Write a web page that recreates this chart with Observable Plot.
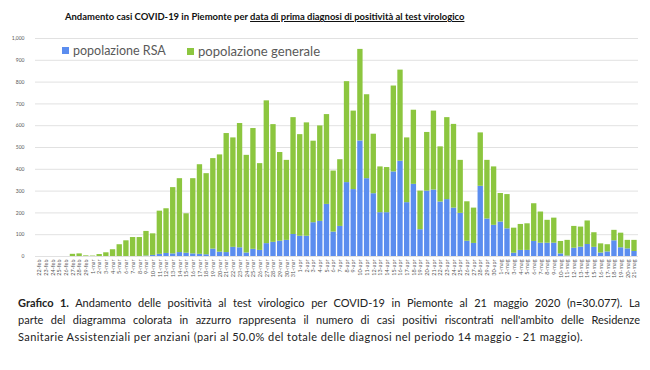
<!DOCTYPE html>
<html><head><meta charset="utf-8">
<script src="https://cdn.jsdelivr.net/npm/d3@7"></script>
<script src="https://cdn.jsdelivr.net/npm/@observablehq/plot@0.6"></script>
<style>
body{margin:0;width:650px;height:370px;background:#fff;position:relative;overflow:hidden;font-family:Lato,"Open Sans",sans-serif;}
#title{position:absolute;left:65px;top:10px;font-weight:bold;font-size:10.5px;white-space:nowrap;color:#111;line-height:14px}
#chart{position:absolute;left:0;top:28px;}
.leg{position:absolute;top:43px;font-size:13px;color:#595959;white-space:nowrap;line-height:16px}
.sw{display:inline-block;width:7px;height:7px;margin-right:4px;vertical-align:1px}
.cap{position:absolute;left:18px;width:622px;font-size:11px;color:#222;white-space:nowrap;line-height:14px}
.j{text-align:justify;text-align-last:justify}
</style></head><body>
<div id="title">Andamento casi COVID-19 in Piemonte per <u>data di prima diagnosi di positività al test virologico</u></div>
<div id="chart"></div>
<div class="leg" id="l1" style="left:62px"><span class="sw" style="background:#5b8def"></span>popolazione RSA</div>
<div class="leg" id="l2" style="left:187px"><span class="sw" style="background:#8cc63f"></span>popolazione generale</div>
<div class="cap j" id="c1" style="top:296px"><b>Grafico 1.</b> Andamento delle positività al test virologico per COVID-19 in Piemonte al 21 maggio 2020 (n=30.077). La</div>
<div class="cap j" id="c2" style="top:313px">parte del diagramma colorata in azzurro rappresenta il numero di casi positivi riscontrati nell'ambito delle Residenze</div>
<div class="cap" id="c3" style="top:330px">Sanitarie Assistenziali per anziani (pari al 50.0% del totale delle diagnosi nel periodo 14 maggio - 21 maggio).</div>
<script>
const dates = ["22-feb","23-feb","24-feb","25-feb","26-feb","27-feb","28-feb","29-feb",
"1-mar","2-mar","3-mar","4-mar","5-mar","6-mar","7-mar","8-mar","9-mar","10-mar","11-mar","12-mar","13-mar","14-mar","15-mar","16-mar","17-mar","18-mar","19-mar","20-mar","21-mar","22-mar","23-mar","24-mar","25-mar","26-mar","27-mar","28-mar","29-mar","30-mar","31-mar",
"1-apr","2-apr","3-apr","4-apr","5-apr","6-apr","7-apr","8-apr","9-apr","10-apr","11-apr","12-apr","13-apr","14-apr","15-apr","16-apr","17-apr","18-apr","19-apr","20-apr","21-apr","22-apr","23-apr","24-apr","25-apr","26-apr","27-apr","28-apr","29-apr","30-apr",
"1-mag","2-mag","3-mag","4-mag","5-mag","6-mag","7-mag","8-mag","9-mag","10-mag","11-mag","12-mag","13-mag","14-mag","15-mag","16-mag","17-mag","18-mag","19-mag","20-mag","21-mag"];
const totale = [0,0,0,0,0,10,12,3,2,9,17,31,54,72,87,87,115,104,208,219,316,357,196,357,421,380,449,466,564,544,610,464,587,426,714,605,477,441,637,559,613,529,599,651,392,444,802,667,950,742,561,411,408,782,855,544,671,300,569,667,503,637,606,441,251,222,567,441,411,289,284,130,147,150,242,204,166,176,69,74,138,135,163,109,58,54,120,107,74,74];
const rsa = [0,0,0,0,0,0,0,0,0,0,0,0,0,0,0,0,2,5,10,14,12,18,15,12,10,8,34,20,18,42,40,16,33,28,59,65,70,74,101,93,93,155,161,239,112,138,339,307,530,357,288,201,201,388,437,247,331,123,300,305,250,261,222,198,70,60,322,172,143,158,127,15,28,28,69,61,61,61,12,2,38,43,55,42,16,21,72,40,35,23];
const series = ["popolazione RSA","popolazione generale"];
const colors = ["#5b8def","#8cc63f"];
const yTicks = [0,100,200,300,400,500,600,700,800,900,1000];

const table = [];
dates.forEach((d,i)=>{
  table.push({date:d, serie:series[0], value:rsa[i]});
  table.push({date:d, serie:series[1], value:totale[i]-rsa[i]});
});

const chart = Plot.plot({
  width:650, height:256,
  marginLeft:35, marginRight:12, marginTop:10, marginBottom:28,
  style:{fontFamily:"Lato, sans-serif", color:"#595959", background:"transparent"},
  x:{domain:dates, padding:0.2, label:null},
  y:{domain:[0,1000], label:null},
  color:{domain:series, range:colors},
  marks:[
    Plot.gridY(yTicks,{stroke:"#d9d9d9", strokeOpacity:1, strokeWidth:0.8}),
    Plot.barY(table,{x:"date", y:"value", fill:"serie", order:series}),
    Plot.axisY(yTicks,{tickSize:0, tickPadding:11, fontSize:5, label:null, fill:"#595959"}),
    Plot.axisX({tickSize:0, tickPadding:3, tickRotate:-90, fontSize:5.5, label:null, fill:"#595959"})
  ]
});
document.getElementById("chart").appendChild(chart);

function fitWidth(el, target){
  const fs = parseFloat(getComputedStyle(el).fontSize);
  const w = el.scrollWidth;
  el.style.fontSize = (fs*target/w)+"px";
}
fitWidth(document.getElementById("title"), 400);
fitWidth(document.getElementById("l1"), 104);
fitWidth(document.getElementById("l2"), 133);
// caption: common font size so longest justified line fits
const c1=document.getElementById("c1"), c2=document.getElementById("c2"), c3=document.getElementById("c3");
[c1,c2,c3].forEach(c=>{c.style.width="auto";c.style.display="inline-block";});
const mw = Math.max(c1.getBoundingClientRect().width, c2.getBoundingClientRect().width);
let fs = 11;
if (mw > 620) fs = 11*618/mw;
[c1,c2,c3].forEach(c=>{c.style.fontSize=fs+"px";});
// last line is not justified: widen its letter spacing to match the reference length
const w3 = c3.getBoundingClientRect().width;
const n3 = c3.textContent.length;
c3.style.letterSpacing = Math.max(0,(565 - w3)/n3) + "px";
[c1,c2].forEach(c=>{c.style.width="622px";c.style.display="block";});
c3.style.display="block"; c3.style.width="640px";
</script>
</body></html>
